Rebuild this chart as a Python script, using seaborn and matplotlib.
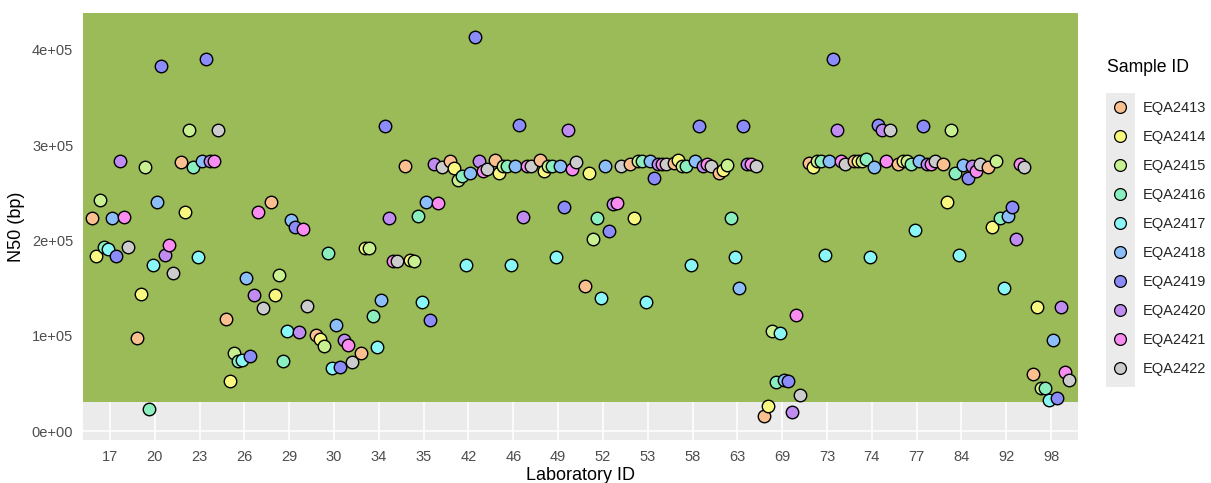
import numpy as np
import pandas as pd
import matplotlib
matplotlib.use("Agg")
import matplotlib.pyplot as plt
from matplotlib.lines import Line2D
from matplotlib.patches import Rectangle
import seaborn as sns

labs = ["17", "20", "23", "26", "29", "30", "34", "35", "42", "46", "49",
        "52", "53", "58", "63", "69", "73", "74", "77", "84", "92", "98"]
samples = ["EQA2413", "EQA2414", "EQA2415", "EQA2416", "EQA2417",
           "EQA2418", "EQA2419", "EQA2420", "EQA2421", "EQA2422"]
colors = ["#FAC090", "#F8F880", "#C8F090", "#8AEEBE", "#8AF6F6",
          "#8CBEF8", "#8C8CF8", "#C08CF0", "#F88CF0", "#CCCCCC"]

EQA2413 = [223000, 98000, 282000, 118000, 240000, 101000, 82000, 278000, 283000, 284000, 284000,
           152000, 280000, 281000, 271000, 16000, 281000, 283000, 280000, 280000, 277000, 60000]
EQA2414 = [184000, 144000, 230000, 52000, 143000, 97000, 192000, 179000, 276000, 271000, 273000,
           271000, 224000, 284000, 274000, 26500, 277000, 283000, 283000, 240000, 214000, 130000]
EQA2415 = [242000, 277000, 316000, 81500, 164000, 89000, 192000, 178000, 263000, 278000, 278000,
           201000, 283000, 278000, 279000, 105000, 283000, 283000, 283000, 316000, 283000, 45000]
EQA2416 = [193000, 23000, 277000, 73500, 73500, 187000, 121000, 226000, 268000, 278000, 278000,
           223000, 283000, 278000, 224000, 51000, 283000, 285000, 280000, 271000, 224000, 45000]
EQA2417 = [191000, 174500, 183000, 74500, 105000, 66000, 88500, 135000, 174000, 174000, 183000,
           140000, 135000, 174000, 183000, 103000, 185000, 183000, 210500, 185000, 150000, 33000]
EQA2418 = [223000, 240000, 283000, 161000, 221000, 111000, 137000, 240000, 271000, 278000, 278000,
           278000, 283000, 283000, 150000, 54000, 283000, 277000, 283000, 279000, 226000, 95500]
EQA2419 = [184000, 383000, 390000, 79000, 214000, 67000, 320000, 116500, 413000, 321000, 235000,
           210000, 265000, 320000, 320000, 52000, 390000, 321000, 320000, 265000, 235000, 35000]
EQA2420 = [283000, 185000, 283000, 143000, 104000, 95500, 224000, 280500, 283000, 224500, 316000,
           238000, 280500, 278000, 280500, 20000, 315500, 316000, 280500, 278000, 201000, 130000]
EQA2421 = [225000, 195000, 283000, 229500, 211500, 90000, 178500, 239000, 273000, 278000, 275000,
           239500, 280500, 280500, 280500, 122000, 283000, 283000, 280000, 273000, 280500, 62000]
EQA2422 = [193000, 165500, 315500, 129500, 131000, 72000, 178000, 277000, 274500, 278000, 282500,
           278500, 280500, 278000, 278000, 38000, 280000, 316000, 283000, 280500, 277000, 53500]

series = [EQA2413, EQA2414, EQA2415, EQA2416, EQA2417,
          EQA2418, EQA2419, EQA2420, EQA2421, EQA2422]

rows = []
for j, lab in enumerate(labs):
    for s, vals in zip(samples, series):
        rows.append({"lab": lab, "sample": s, "n50": vals[j]})
df = pd.DataFrame(rows)

sns.set_theme(style="darkgrid")
plt.rcParams['font.family'] = ['Liberation Sans', 'DejaVu Sans']

W, H = 1211, 483
fig = plt.figure(figsize=(W / 100, H / 100), dpi=100)
ax = fig.add_axes([83 / W, 1 - 440 / H, (1078 - 83) / W, (440 - 13) / H])
ax.set_facecolor("#EBEBEB")

sns.stripplot(data=df, x="lab", y="n50", hue="sample", order=labs, hue_order=samples,
              palette=colors, dodge=True, jitter=False, size=9, edgecolor="black",
              linewidth=1.0, legend=False, ax=ax, zorder=3)

# widen the dodge to match ggplot's 0.9 width
for coll in ax.collections:
    offs = coll.get_offsets()
    if len(offs):
        offs = np.array(offs)
        c = np.round(offs[:, 0])
        offs[:, 0] = c + (offs[:, 0] - c) * 1.125
        coll.set_offsets(offs)

ymin, ymax = -9400, 438600
ax.axhspan(30000, ymax, facecolor="#9BBB59", edgecolor="none", zorder=1)

ax.set_xlim(-0.6, len(labs) - 0.4)
ax.set_ylim(ymin, ymax)
ax.set_yticks([0, 100000, 200000, 300000, 400000])
ax.set_yticklabels(["0e+00", "1e+05", "2e+05", "3e+05", "4e+05"])
ax.set_yticks([50000, 150000, 250000, 350000], minor=True)
ax.set_axisbelow(True)
ax.grid(True, which="major", color="white", linewidth=1.1)
ax.grid(True, which="minor", axis="y", color="white", linewidth=0.5)
for sp in ax.spines.values():
    sp.set_visible(False)
ax.tick_params(axis="both", which="major", length=4, width=0.9, color="#333333",
               labelsize=10.5, labelcolor="#4D4D4D", pad=3)
ax.tick_params(axis="y", which="minor", length=0)

ax.set_xlabel("Laboratory ID", fontsize=13, color="black", labelpad=2)
ax.set_ylabel("N50 (bp)", fontsize=13, color="black", labelpad=5)

handles = [Line2D([], [], marker="o", ls="", markerfacecolor=c, markeredgecolor="black",
                  markersize=8.5, markeredgewidth=0.9) for c in colors]
fs = 10.5
leg = fig.legend(handles, samples, loc="upper left",
                 bbox_to_anchor=(1106 / W, 1 - 101 / H), frameon=False, fontsize=fs,
                 borderpad=0, borderaxespad=0, handlelength=27.8 / (fs * 100 / 72),
                 handletextpad=9.2 / (fs * 100 / 72), labelspacing=1.03)
fig.text(1107 / W, 1 - 67 / H, "Sample ID", fontsize=12.7, color="black",
         ha="left", va="center")
fig.patches.append(Rectangle((1106 / W, 1 - 387 / H), 29 / W, 294 / H,
                             transform=fig.transFigure, facecolor="#EBEBEB",
                             edgecolor="none", zorder=0))

fig.savefig("out.png", dpi=100)
